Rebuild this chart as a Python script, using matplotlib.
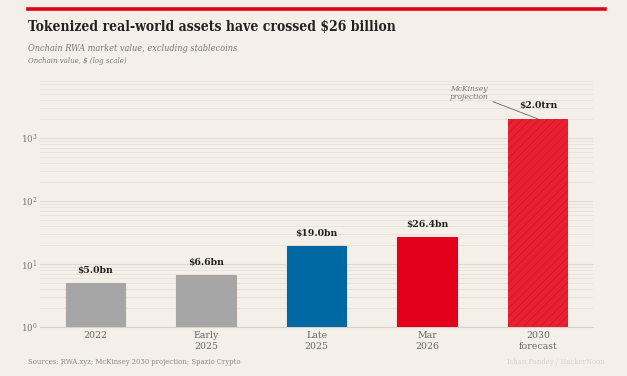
import numpy as np
import matplotlib.pyplot as plt

# Data
categories = ["2022", "Early\n2025", "Late\n2025", "Mar\n2026", "2030\nforecast"]
values_bn = [5.0, 6.6, 19.0, 26.4, 2000.0]
labels = ["$5.0bn", "$6.6bn", "$19.0bn", "$26.4bn", "$2.0trn"]
colors = ["#a6a6a6", "#a6a6a6", "#0068a3", "#e3001b", "#e8202f"]

bg = "#f4f0e9"
plt.rcParams['font.family'] = ['DejaVu Serif']
plt.rcParams['font.stretch'] = 'condensed'
plt.rcParams['hatch.linewidth'] = 0.6

fig = plt.figure(figsize=(6.27, 3.76), dpi=100, facecolor=bg)
ax = fig.add_axes([0.064, 0.130, 0.882, 0.655], facecolor=bg)

x = np.arange(len(categories))
bars = ax.bar(x, values_bn, width=0.54, color=colors, linewidth=0.8, zorder=3)
for b, c in zip(bars, colors):
    b.set_edgecolor(c)
# hatched forecast bar
bars[-1].set_hatch("////")
bars[-1].set_edgecolor("#d01525")
bars[-1].set_linewidth(0)

for xi, v, lab in zip(x, values_bn, labels):
    ax.annotate(lab, (xi, v), xytext=(0, 6), textcoords="offset points",
                ha="center", va="bottom", fontsize=7.5, fontweight="bold", color="#222222")

ax.set_yscale("log")
ax.set_ylim(1, 8000)
ax.set_xlim(-0.5, 4.5)
ax.set_xticks(x)
ax.set_xticklabels(categories, fontsize=7.5, color="#666666", linespacing=1.25)
ax.tick_params(axis="x", length=0, pad=3)
ax.tick_params(axis="y", which="both", length=0, labelsize=7, labelcolor="#777777", pad=2)
ax.grid(True, which="major", axis="y", color="#dedad2", linewidth=0.8, zorder=0)
ax.grid(True, which="minor", axis="y", color="#e6e1d9", linewidth=0.6, zorder=0)
for s in ["top", "right", "left"]:
    ax.spines[s].set_visible(False)
ax.spines["bottom"].set_color("#d6d2ca")
ax.spines["bottom"].set_linewidth(0.8)

# annotation for projection
ax.annotate("McKinsey\nprojection", xy=(4.0, 2000), xytext=(3.38, 5200),
            fontsize=6, style="italic", color="#777777", ha="center", va="center",
            linespacing=1.0,
            arrowprops=dict(arrowstyle="-", color="#666666", lw=0.6,
                            shrinkA=1, shrinkB=0))

# header
fig.add_artist(plt.Line2D([0.045, 0.965], [0.976, 0.976], color="#e3001b", lw=2.6))
fig.text(0.045, 0.928, "Tokenized real-world assets have crossed $26 billion",
         fontsize=10, fontweight="bold", color="#222222", va="center")
fig.text(0.045, 0.872, "Onchain RWA market value, excluding stablecoins",
         fontsize=6.6, style="italic", color="#777777", va="center")
fig.text(0.045, 0.838, "Onchain value, $ (log scale)",
         fontsize=5.6, style="italic", color="#777777", va="center")

# footer
fig.text(0.045, 0.037, "Sources: RWA.xyz; McKinsey 2030 projection; Spazio Crypto",
         fontsize=5.5, color="#888888", va="center")
fig.text(0.965, 0.037, "Ishan Pandey / HackerNoon",
         fontsize=5.5, color="#d8d3cb", va="center", ha="right")

fig.savefig("out.png", dpi=100, facecolor=bg)
